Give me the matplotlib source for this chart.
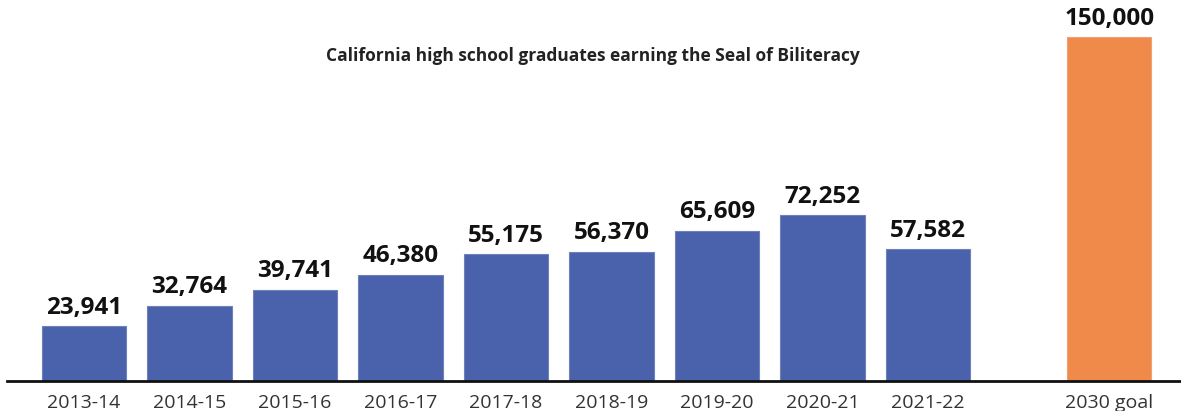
import matplotlib.pyplot as plt

years = ["2013-14", "2014-15", "2015-16", "2016-17", "2017-18",
         "2018-19", "2019-20", "2020-21", "2021-22"]
graduates = [23941, 32764, 39741, 46380, 55175, 56370, 65609, 72252, 57582]
goal_label = "2030 goal"
goal_value = 150000

blue = "#4a62ab"
orange = "#ef8a4a"


def main():
    plt.rcParams["font.family"] = ["Open Sans", "DejaVu Sans"]
    fig = plt.figure(figsize=(11.81, 4.11), dpi=100)
    ax = fig.add_axes([7 / 1181, 30 / 411, 1174 / 1181, 381 / 411])

    xs = list(range(len(years)))
    goal_x = 9.72
    ax.bar(xs, graduates, width=0.8, color=blue, edgecolor="#6f80bb", linewidth=0.8)
    ax.bar([goal_x], [goal_value], width=0.8, color=orange, edgecolor="#f3a070", linewidth=0.8)

    # value labels on top of each bar
    for x, v in zip(xs + [goal_x], graduates + [goal_value]):
        ax.text(x, v + 2800, f"{v:,}", ha="center", va="bottom",
                fontsize=17.5, fontweight="bold", color="#111111")

    ax.set_xlim(-0.73, 10.40)
    ax.set_ylim(0, 150000 * 381 / 344)
    ax.set_xticks(xs + [goal_x])
    ax.set_xticklabels(years + [goal_label], fontsize=14, color="#333333")
    ax.tick_params(axis="x", length=0, pad=9)
    ax.set_yticks([])
    for side in ["top", "right", "left"]:
        ax.spines[side].set_visible(False)
    ax.spines["bottom"].set_linewidth(2)
    ax.spines["bottom"].set_color("#111111")

    fig.text(593 / 1181, 1 - 56 / 411, "California high school graduates earning the Seal of Biliteracy",
             ha="center", va="center", fontsize=12.5, fontweight="bold", color="#222222")

    fig.savefig("out.png", dpi=100)
    plt.close(fig)


if __name__ == "__main__":
    main()
